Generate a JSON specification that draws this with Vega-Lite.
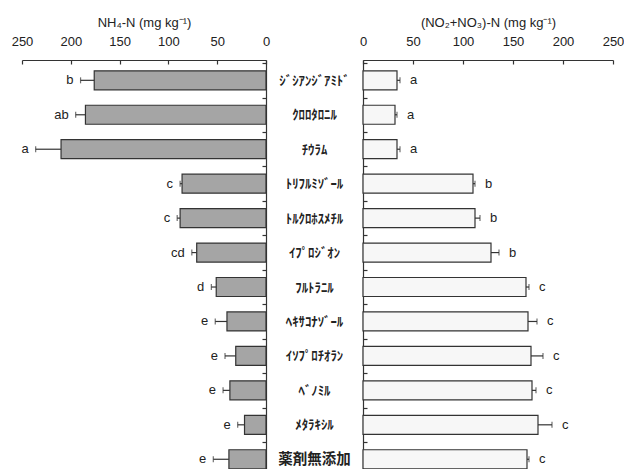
{
  "$schema": "https://vega.github.io/schema/vega-lite/v6.json",
  "bounds": "flush",
  "spacing": 97,
  "padding": {"left": 11, "top": 16, "right": 0, "bottom": 0},
  "background": "white",
  "config": {
    "view": {"stroke": null},
    "axis": {
      "grid": false,
      "labelFont": "Liberation Sans",
      "labelFontSize": 13,
      "labelColor": "#222",
      "titleFont": "Liberation Sans",
      "titleFontSize": 13,
      "titleFontWeight": "normal",
      "titleColor": "#222",
      "domainColor": "#333",
      "tickColor": "#333",
      "domainWidth": 1.2,
      "tickWidth": 1.2
    }
  },
  "data": {
    "values": [
      {"name": "ｼﾞｼｱﾝｼﾞｱﾐﾄﾞ", "nh4": 176, "nh4_hi": 190, "nh4_lab": "b", "no3": 34, "no3_hi": 37, "no3_lab": "a"},
      {"name": "ｸﾛﾛﾀﾛﾆﾙ", "nh4": 185, "nh4_hi": 195, "nh4_lab": "ab", "no3": 32, "no3_hi": 34, "no3_lab": "a"},
      {"name": "ﾁｳﾗﾑ", "nh4": 210, "nh4_hi": 236, "nh4_lab": "a", "no3": 34, "no3_hi": 37, "no3_lab": "a"},
      {"name": "ﾄﾘﾌﾙﾐｿﾞｰﾙ", "nh4": 86, "nh4_hi": 88, "nh4_lab": "c", "no3": 110, "no3_hi": 112, "no3_lab": "b"},
      {"name": "ﾄﾙｸﾛﾎｽﾒﾁﾙ", "nh4": 88, "nh4_hi": 91, "nh4_lab": "c", "no3": 112, "no3_hi": 117, "no3_lab": "b"},
      {"name": "ｲﾌﾟﾛｼﾞｵﾝ", "nh4": 71, "nh4_hi": 76, "nh4_lab": "cd", "no3": 128, "no3_hi": 136, "no3_lab": "b"},
      {"name": "ﾌﾙﾄﾗﾆﾙ", "nh4": 51, "nh4_hi": 56, "nh4_lab": "d", "no3": 163, "no3_hi": 166, "no3_lab": "c"},
      {"name": "ﾍｷｻｺﾅｿﾞｰﾙ", "nh4": 40, "nh4_hi": 52, "nh4_lab": "e", "no3": 165, "no3_hi": 174, "no3_lab": "c"},
      {"name": "ｲｿﾌﾟﾛﾁｵﾗﾝ", "nh4": 31, "nh4_hi": 42, "nh4_lab": "e", "no3": 168, "no3_hi": 180, "no3_lab": "c"},
      {"name": "ﾍﾞﾉﾐﾙ", "nh4": 37, "nh4_hi": 44, "nh4_lab": "e", "no3": 169, "no3_hi": 173, "no3_lab": "c"},
      {"name": "ﾒﾀﾗｷｼﾙ", "nh4": 22, "nh4_hi": 29, "nh4_lab": "e", "no3": 175, "no3_hi": 189, "no3_lab": "c"},
      {"name": "薬剤無添加", "nh4": 38, "nh4_hi": 54, "nh4_lab": "e", "no3": 164, "no3_hi": 166, "no3_lab": "c"}
    ]
  },
  "hconcat": [
    {
      "width": 244,
      "height": 419.6,
      "encoding": {
        "y": {
          "field": "name", "type": "nominal", "sort": null,
          "scale": {"paddingInner": 0, "paddingOuter": 0.09},
          "axis": {"orient": "right", "title": null, "labels": false, "tickBand": "extent", "tickSize": -4}
        }
      },
      "layer": [
        {
          "mark": {"type": "bar", "size": 19, "fill": "#a5a5a5", "stroke": "#333", "strokeWidth": 1.2},
          "encoding": {
            "x": {
              "field": "nh4", "type": "quantitative",
              "scale": {"domain": [0, 250], "reverse": true, "nice": false},
              "axis": {"orient": "top", "title": "NH₄-N (mg kg⁻¹)", "values": [0, 50, 100, 150, 200, 250], "tickSize": -4, "labelPadding": 15.5, "labelFlush": false, "titlePadding": 6}
            }
          }
        },
        {
          "mark": {"type": "rule", "color": "#333", "strokeWidth": 1.2},
          "encoding": {"x": {"field": "nh4", "type": "quantitative"}, "x2": {"field": "nh4_hi"}}
        },
        {
          "mark": {"type": "tick", "orient": "vertical", "size": 6, "thickness": 1.2, "color": "#333"},
          "encoding": {"x": {"field": "nh4_hi", "type": "quantitative"}}
        },
        {
          "mark": {"type": "text", "align": "right", "baseline": "middle", "dx": -7, "font": "Liberation Sans", "fontSize": 13, "color": "#222"},
          "encoding": {"x": {"field": "nh4_hi", "type": "quantitative"}, "text": {"field": "nh4_lab"}}
        }
      ]
    },
    {
      "width": 250,
      "height": 419.6,
      "encoding": {
        "y": {
          "field": "name", "type": "nominal", "sort": null,
          "scale": {"paddingInner": 0, "paddingOuter": 0.09},
          "axis": {
            "orient": "left", "title": null, "labels": true, "labelAlign": "center", "labelBaseline": "middle",
            "labelPadding": 53, "labelFont": "Noto Sans CJK JP", "labelFontWeight": "bold",
            "labelFontSize": {"condition": {"test": "datum.value == '薬剤無添加'", "value": 14.5}, "value": 12.8},
            "tickBand": "extent", "tickSize": -4
          }
        }
      },
      "layer": [
        {
          "mark": {"type": "bar", "size": 19, "fill": "#f7f7f7", "stroke": "#333", "strokeWidth": 1.2},
          "encoding": {
            "x": {
              "field": "no3", "type": "quantitative",
              "scale": {"domain": [0, 250], "nice": false},
              "axis": {"orient": "top", "title": "(NO₂+NO₃)-N (mg kg⁻¹)", "values": [0, 50, 100, 150, 200, 250], "tickSize": -4, "labelPadding": 15.5, "labelFlush": false, "titlePadding": 6}
            }
          }
        },
        {
          "mark": {"type": "rule", "color": "#333", "strokeWidth": 1.2},
          "encoding": {"x": {"field": "no3", "type": "quantitative"}, "x2": {"field": "no3_hi"}}
        },
        {
          "mark": {"type": "tick", "orient": "vertical", "size": 6, "thickness": 1.2, "color": "#333"},
          "encoding": {"x": {"field": "no3_hi", "type": "quantitative"}}
        },
        {
          "mark": {"type": "text", "align": "left", "baseline": "middle", "dx": 10, "font": "Liberation Sans", "fontSize": 13, "color": "#222"},
          "encoding": {"x": {"field": "no3_hi", "type": "quantitative"}, "text": {"field": "no3_lab"}}
        }
      ]
    }
  ]
}
